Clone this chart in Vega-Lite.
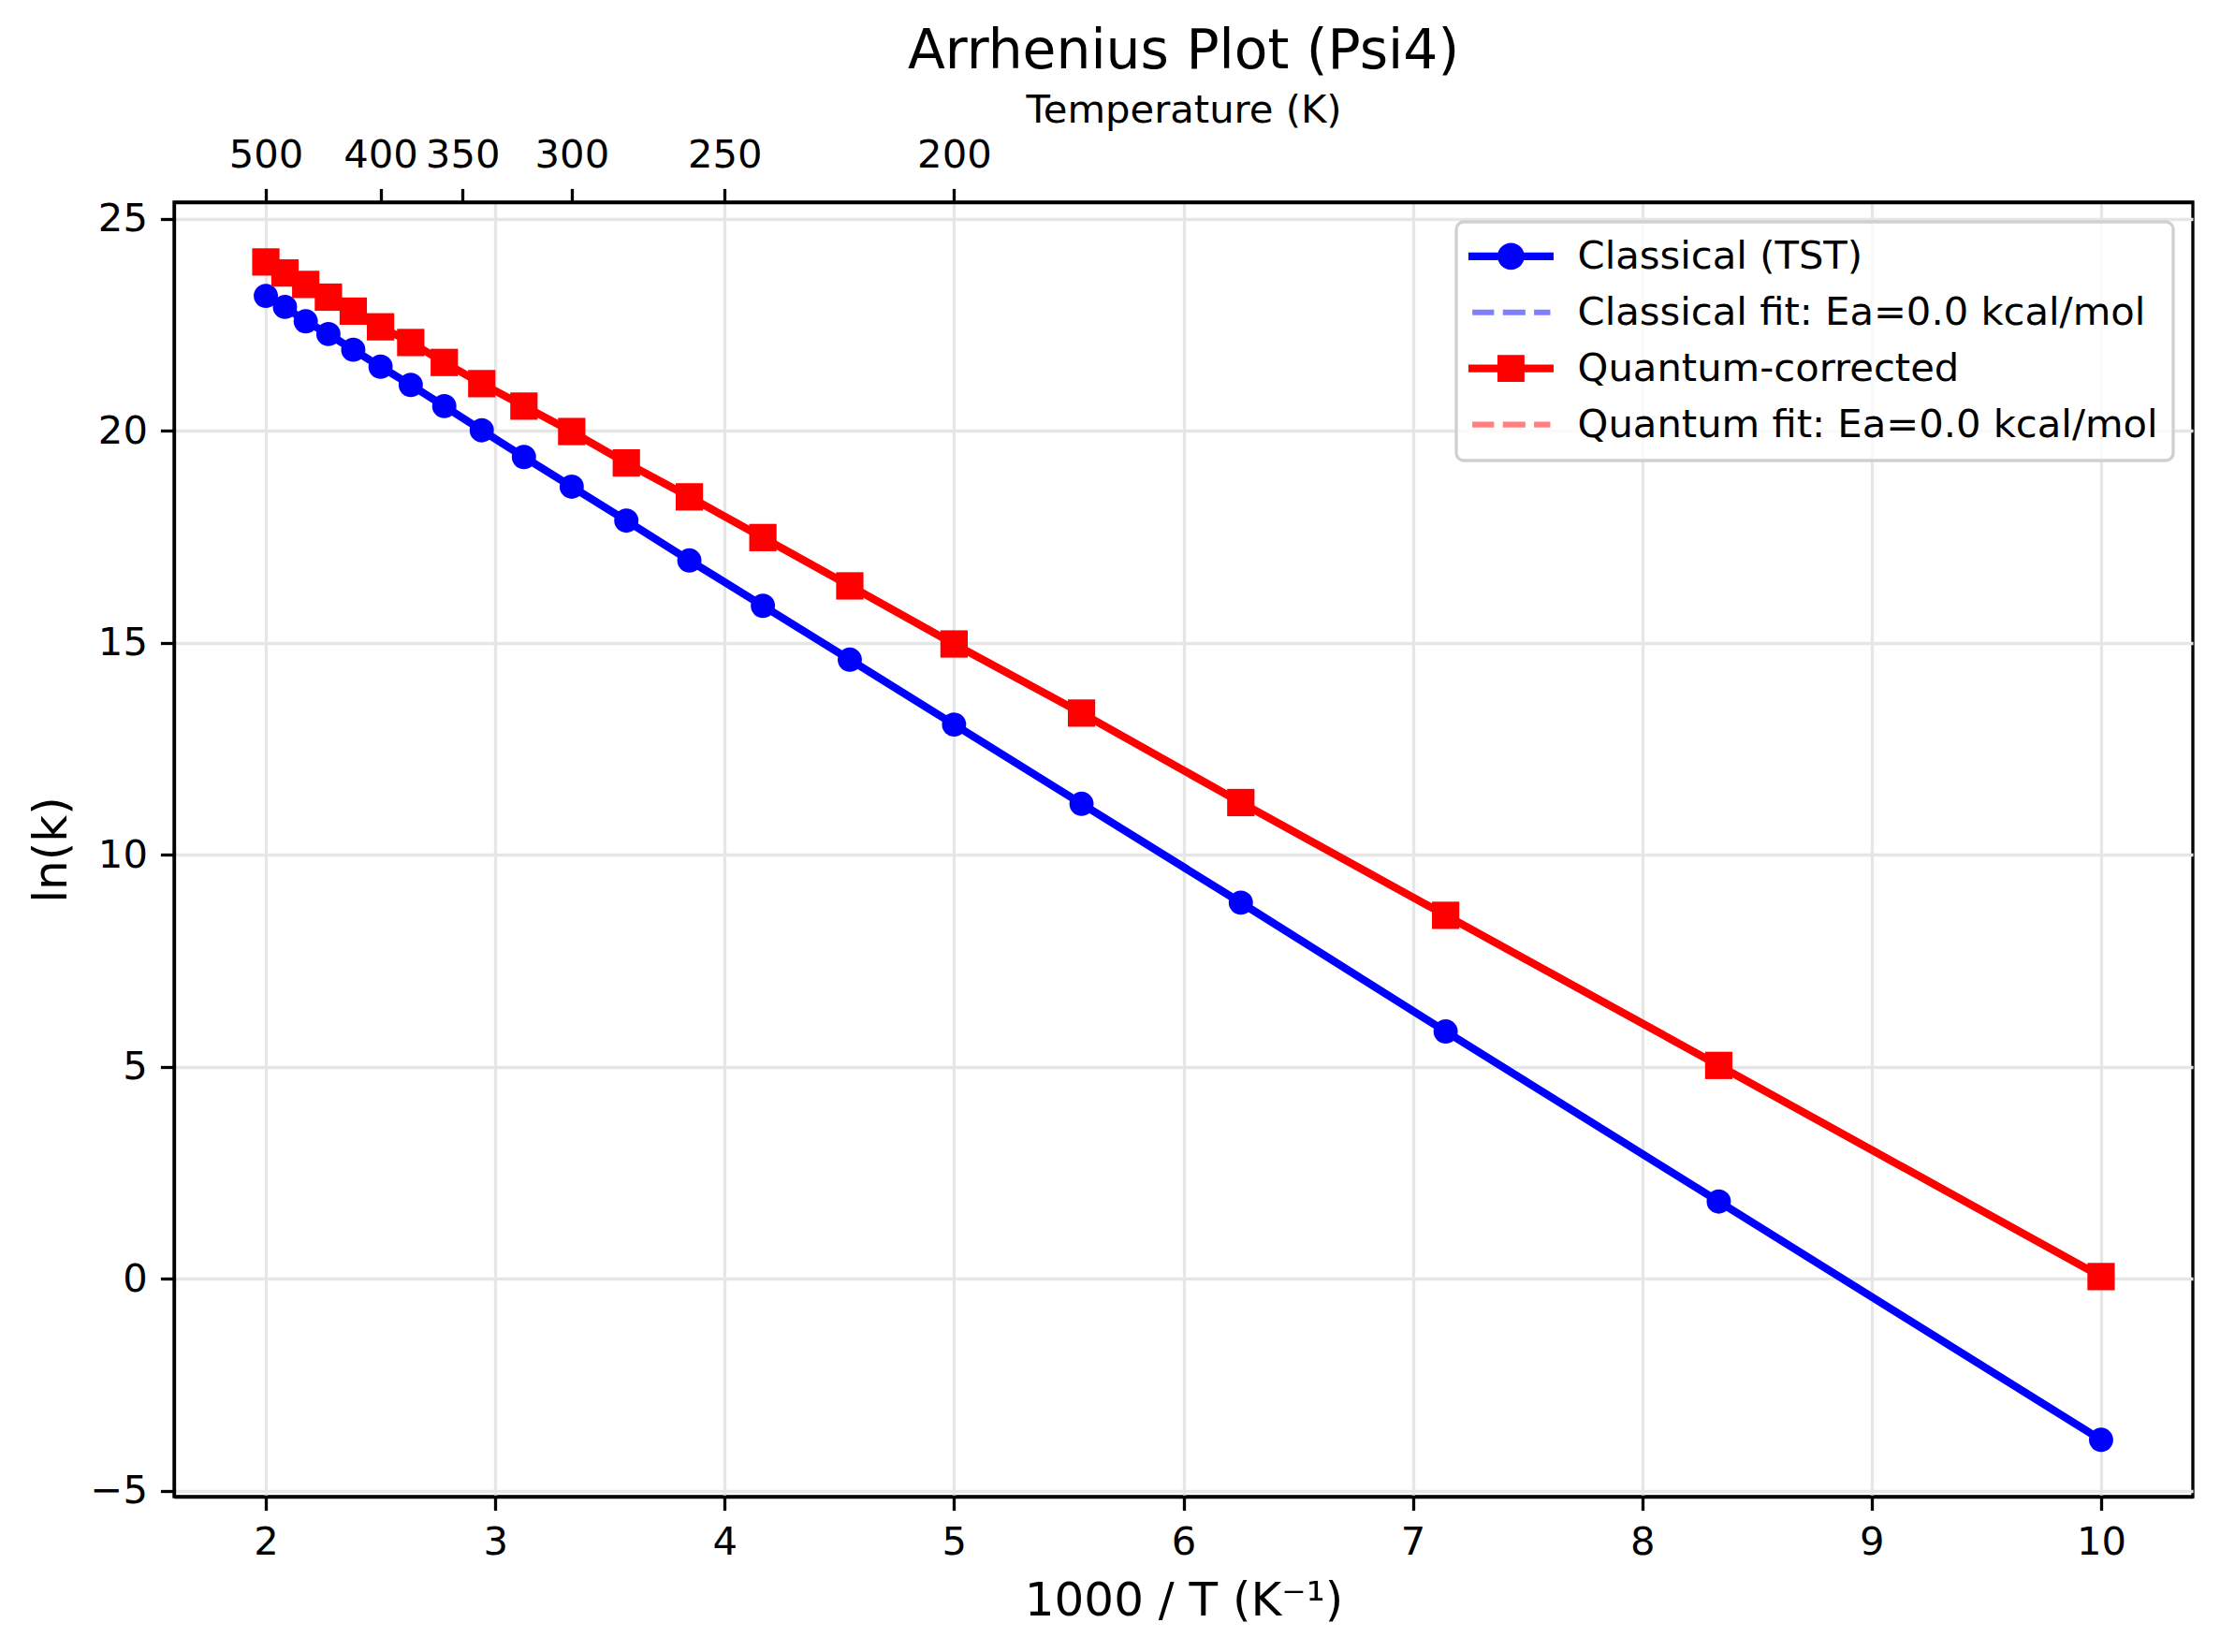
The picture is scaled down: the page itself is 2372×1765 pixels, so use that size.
{
  "$schema": "https://vega.github.io/schema/vega-lite/v6.json",
  "width": 2157,
  "height": 1383,
  "autosize": {"type": "none"},
  "padding": {"left": 186, "top": 216, "right": 29, "bottom": 166},
  "background": "white",
  "title": {"text": "Arrhenius Plot (Psi4)"},
  "data": {
    "values": [
      {"series": "Classical (TST)", "invT": 2.0, "lnk": 23.18},
      {"series": "Classical (TST)", "invT": 2.0833, "lnk": 22.92},
      {"series": "Classical (TST)", "invT": 2.1739, "lnk": 22.58},
      {"series": "Classical (TST)", "invT": 2.2727, "lnk": 22.28},
      {"series": "Classical (TST)", "invT": 2.381, "lnk": 21.91},
      {"series": "Classical (TST)", "invT": 2.5, "lnk": 21.51},
      {"series": "Classical (TST)", "invT": 2.6316, "lnk": 21.08},
      {"series": "Classical (TST)", "invT": 2.7778, "lnk": 20.58},
      {"series": "Classical (TST)", "invT": 2.9412, "lnk": 20.01},
      {"series": "Classical (TST)", "invT": 3.125, "lnk": 19.38},
      {"series": "Classical (TST)", "invT": 3.3333, "lnk": 18.68},
      {"series": "Classical (TST)", "invT": 3.5714, "lnk": 17.88},
      {"series": "Classical (TST)", "invT": 3.8462, "lnk": 16.94},
      {"series": "Classical (TST)", "invT": 4.1667, "lnk": 15.87},
      {"series": "Classical (TST)", "invT": 4.5455, "lnk": 14.6},
      {"series": "Classical (TST)", "invT": 5.0, "lnk": 13.07},
      {"series": "Classical (TST)", "invT": 5.5556, "lnk": 11.2},
      {"series": "Classical (TST)", "invT": 6.25, "lnk": 8.87},
      {"series": "Classical (TST)", "invT": 7.1429, "lnk": 5.83},
      {"series": "Classical (TST)", "invT": 8.3333, "lnk": 1.82},
      {"series": "Classical (TST)", "invT": 10.0, "lnk": -3.8},
      {"series": "Quantum-corrected", "invT": 2.0, "lnk": 23.98},
      {"series": "Quantum-corrected", "invT": 2.0833, "lnk": 23.72},
      {"series": "Quantum-corrected", "invT": 2.1739, "lnk": 23.45},
      {"series": "Quantum-corrected", "invT": 2.2727, "lnk": 23.15},
      {"series": "Quantum-corrected", "invT": 2.381, "lnk": 22.82},
      {"series": "Quantum-corrected", "invT": 2.5, "lnk": 22.45},
      {"series": "Quantum-corrected", "invT": 2.6316, "lnk": 22.08},
      {"series": "Quantum-corrected", "invT": 2.7778, "lnk": 21.61},
      {"series": "Quantum-corrected", "invT": 2.9412, "lnk": 21.11},
      {"series": "Quantum-corrected", "invT": 3.125, "lnk": 20.58},
      {"series": "Quantum-corrected", "invT": 3.3333, "lnk": 19.98},
      {"series": "Quantum-corrected", "invT": 3.5714, "lnk": 19.24},
      {"series": "Quantum-corrected", "invT": 3.8462, "lnk": 18.44},
      {"series": "Quantum-corrected", "invT": 4.1667, "lnk": 17.48},
      {"series": "Quantum-corrected", "invT": 4.5455, "lnk": 16.34},
      {"series": "Quantum-corrected", "invT": 5.0, "lnk": 14.97},
      {"series": "Quantum-corrected", "invT": 5.5556, "lnk": 13.34},
      {"series": "Quantum-corrected", "invT": 6.25, "lnk": 11.23},
      {"series": "Quantum-corrected", "invT": 7.1429, "lnk": 8.57},
      {"series": "Quantum-corrected", "invT": 8.3333, "lnk": 5.03},
      {"series": "Quantum-corrected", "invT": 10.0, "lnk": 0.05}
    ]
  },
  "resolve": {"axis": {"x": "independent"}},
  "layer": [
    {
      "transform": [{"filter": "datum.series === 'Classical (TST)'"}],
      "mark": {"type": "line", "color": "#0000ff", "strokeWidth": 8.3, "strokeJoin": "round", "strokeCap": "square"},
      "encoding": {
        "x": {"field": "invT", "type": "quantitative", "scale": {"domain": [1.6, 10.4], "nice": false, "zero": false},
              "axis": {"orient": "bottom", "title": "1000 / T (K⁻¹)", "values": [2, 3, 4, 5, 6, 7, 8, 9, 10], "grid": true, "titlePadding": 16}},
        "y": {"field": "lnk", "type": "quantitative", "scale": {"domain": [-5.14, 25.39], "nice": false, "zero": false},
              "axis": {"title": "ln(k)", "values": [-5, 0, 5, 10, 15, 20, 25], "grid": true, "titlePadding": 15}}
      }
    },
    {
      "transform": [{"filter": "datum.series === 'Quantum-corrected'"}],
      "mark": {"type": "line", "color": "#ff0000", "strokeWidth": 8.3, "strokeJoin": "round", "strokeCap": "square"},
      "encoding": {
        "x": {"field": "invT", "type": "quantitative", "axis": null},
        "y": {"field": "lnk", "type": "quantitative",
              "axis": {"title": "ln(k)", "values": [-5, 0, 5, 10, 15, 20, 25], "grid": true, "titlePadding": 15}}
      }
    },
    {
      "transform": [{"filter": "datum.series === 'Classical (TST)'"}],
      "mark": {"type": "point", "shape": "circle", "filled": true, "color": "#0000ff", "size": 670, "opacity": 1, "strokeWidth": 0},
      "encoding": {
        "x": {"field": "invT", "type": "quantitative",
              "axis": {"orient": "top", "title": "Temperature (K)", "titleFontSize": 41.7, "titlePadding": 6, "grid": false,
                       "values": [2, 2.5, 2.857142857142857, 3.3333333333333335, 4, 5],
                       "labelExpr": "format(1000 / datum.value, '.0f')"}},
        "y": {"field": "lnk", "type": "quantitative",
              "axis": {"title": "ln(k)", "values": [-5, 0, 5, 10, 15, 20, 25], "grid": true, "titlePadding": 15}}
      }
    },
    {
      "transform": [{"filter": "datum.series === 'Quantum-corrected'"}],
      "mark": {"type": "point", "shape": "square", "filled": true, "color": "#ff0000", "size": 853, "opacity": 1, "strokeWidth": 0},
      "encoding": {
        "x": {"field": "invT", "type": "quantitative", "axis": null},
        "y": {"field": "lnk", "type": "quantitative",
              "axis": {"title": "ln(k)", "values": [-5, 0, 5, 10, 15, 20, 25], "grid": true, "titlePadding": 15}}
      }
    },
    {
      "data": {"values": []},
      "mark": {"type": "point", "filled": true, "size": 784, "opacity": 0},
      "encoding": {
        "x": {"field": "invT", "type": "quantitative", "axis": null},
        "y": {"field": "lnk", "type": "quantitative",
              "axis": {"title": "ln(k)", "values": [-5, 0, 5, 10, 15, 20, 25], "grid": true, "titlePadding": 15}},
        "color": {"field": "series", "type": "nominal",
                  "scale": {"domain": ["Classical (TST)", "Classical fit: Ea=0.0 kcal/mol", "Quantum-corrected", "Quantum fit: Ea=0.0 kcal/mol"],
                            "range": ["#0000ff", "#8080ff", "#ff0000", "#ff8080"]},
                  "legend": {"title": null, "encode": {"legend": {"update": {"strokeWidth": {"value": 3.3}}}}}},
        "shape": {"field": "series", "type": "nominal",
                  "scale": {"domain": ["Classical (TST)", "Classical fit: Ea=0.0 kcal/mol", "Quantum-corrected", "Quantum fit: Ea=0.0 kcal/mol"],
                            "range": [
                              "M-3.25,-0.3H3.25V0.3H-3.25Z M1.03,0A1.03,1.03 0 1,1 -1.03,0A1.03,1.03 0 1,1 1.03,0Z",
                              "M-2.95,-0.22H-1.29V0.22H-2.95Z M-0.62,-0.22H1.1V0.22H-0.62Z M1.76,-0.22H3.0V0.22H1.76Z",
                              "M-3.25,-0.3H3.25V0.3H-3.25Z M-1.03,-1.03H1.03V1.03H-1.03Z",
                              "M-2.95,-0.22H-1.29V0.22H-2.95Z M-0.62,-0.22H1.1V0.22H-0.62Z M1.76,-0.22H3.0V0.22H1.76Z"
                            ]},
                  "legend": {"title": null, "encode": {"legend": {"update": {"strokeWidth": {"value": 3.3}}}}}}
      }
    }
  ],
  "config": {
    "font": "DejaVu Sans",
    "view": {"stroke": "black", "strokeWidth": 3.3},
    "axis": {
      "labelFont": "DejaVu Sans", "labelFontSize": 41.7, "labelColor": "black",
      "titleFont": "DejaVu Sans", "titleFontSize": 50, "titleFontWeight": "normal", "titleColor": "black",
      "domainColor": "black", "domainWidth": 3.3, "tickColor": "black", "tickWidth": 3.3, "tickSize": 14.6,
      "gridColor": "#e6e6e6", "gridWidth": 3.3, "labelPadding": 14, "labelLimit": 1000,
      "labelFlush": false, "labelOverlap": false
    },
    "title": {"font": "DejaVu Sans", "fontSize": 58.3, "fontWeight": "normal", "color": "black", "offset": 12, "anchor": "middle"},
    "legend": {
      "orient": "top-right", "offset": 21, "padding": 16,
      "strokeColor": "#d0d0d0", "fillColor": "rgba(255,255,255,0.8)", "cornerRadius": 8,
      "labelFont": "DejaVu Sans", "labelFontSize": 41.7, "labelColor": "black", "labelLimit": 2000,
      "symbolSize": 784, "symbolStrokeWidth": 0, "symbolOpacity": 1,
      "symbolOffset": 21.6, "labelOffset": 50.3, "rowPadding": 16.9
    }
  }
}
